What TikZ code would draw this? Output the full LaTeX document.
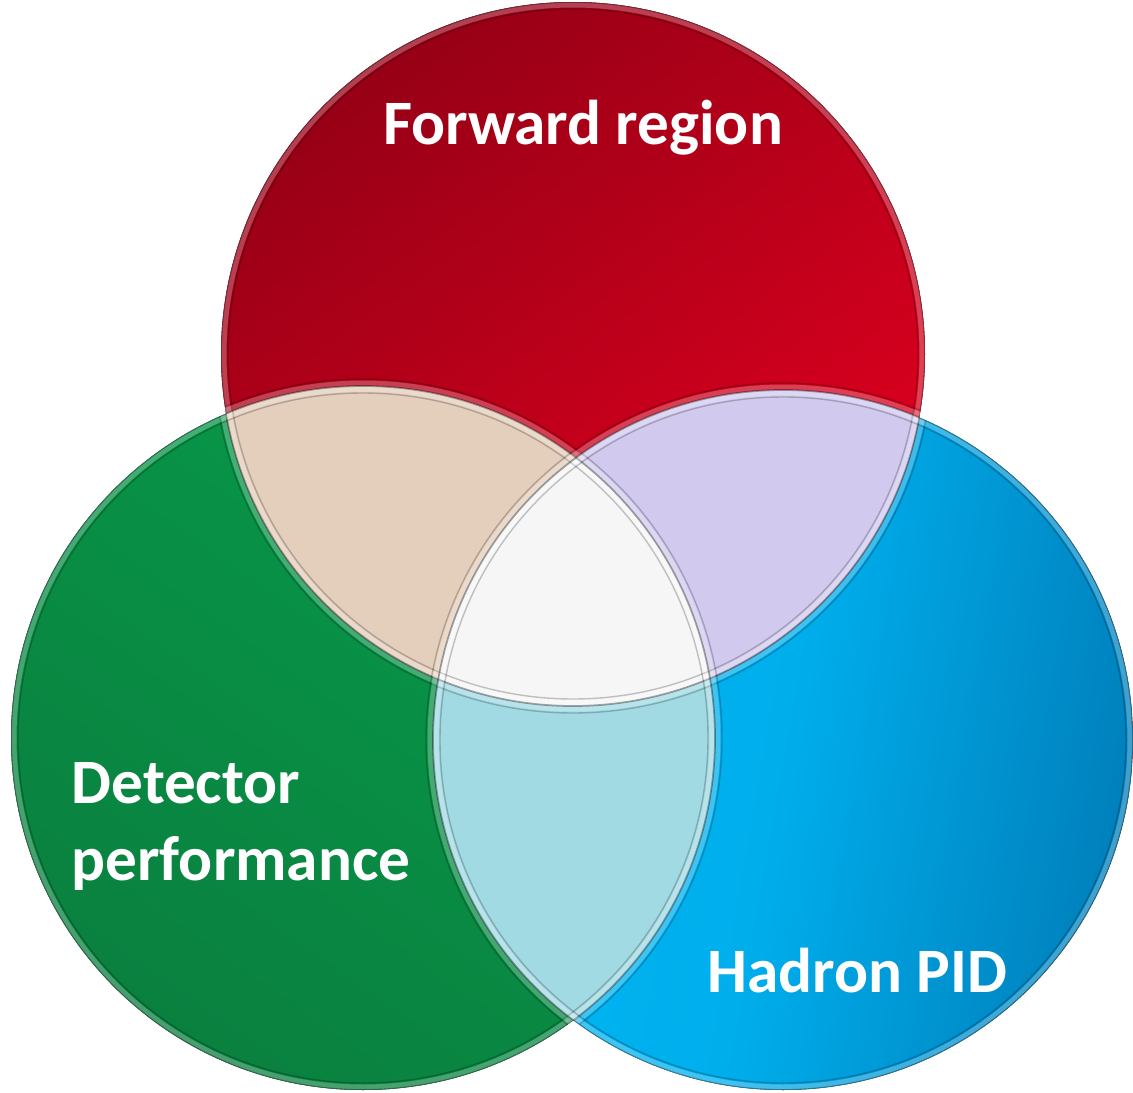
\documentclass[tikz,border=0pt]{standalone}
\usepackage{fontspec}
\setmainfont{Carlito}
\definecolor{redDark}{HTML}{960016}
\definecolor{redLight}{HTML}{E3001F}
\definecolor{greenDark}{HTML}{0A803F}
\definecolor{greenLight}{HTML}{079A4A}
\definecolor{blueLight}{HTML}{00B8F4}
\definecolor{blueMid}{HTML}{00AEEC}
\definecolor{blueDark}{HTML}{0080BC}
\definecolor{beige}{HTML}{E4CEBC}
\definecolor{lavender}{HTML}{D1CAEE}
\definecolor{cyanish}{HTML}{A2DAE3}
\definecolor{centre}{HTML}{F6F6F6}
\begin{document}
\begin{tikzpicture}[
    x=0.1mm, y=-0.1mm, % one unit = one pixel of the reference
    lbl/.style={text=white, font=\fontsize{18}{22}\selectfont\bfseries, inner sep=0pt},
    band/.style={white, opacity=0.25, line width=1.1mm},
    edge/.style={black, opacity=0.35, line width=0.5pt},
    inset/.style={black, opacity=0.22, line width=0.4pt},
  ]
  \useasboundingbox (0,0) rectangle (1133,1093);

  % centres of the three sets
  \coordinate (R) at (573,354);
  \coordinate (G) at (363,738);
  \coordinate (B) at (783,740);
  \def\rr{35.2mm}

  % the sets
  \fill[top color=greenLight, bottom color=greenDark, shading angle=-35] (G) circle[radius=\rr];
  \fill[top color=blueLight, bottom color=blueDark, middle color=blueMid, shading angle=80] (B) circle[radius=35mm];
  \fill[top color=redDark, bottom color=redLight, shading angle=35] (R) circle[radius=\rr];

  % pairwise overlaps
  \begin{scope}
    \clip (R) circle[radius=\rr];
    \fill[beige] (G) circle[radius=\rr];
    \fill[lavender] (B) circle[radius=35mm];
  \end{scope}
  \begin{scope}
    \clip (G) circle[radius=\rr];
    \fill[cyanish] (B) circle[radius=35mm];
  \end{scope}
  % all three
  \begin{scope}
    \clip (R) circle[radius=\rr];
    \clip (G) circle[radius=\rr];
    \fill[centre] (B) circle[radius=35mm];
  \end{scope}

  % bevelled rims
  \begin{scope}
    \clip (R) circle[radius=\rr] (G) circle[radius=\rr] (B) circle[radius=35mm];
    \foreach \c/\r in {R/35.2, G/35.2, B/35} {
      \draw[band] (\c) circle[radius=\r mm];
      \draw[edge] (\c) circle[radius=\r mm];
      \draw[inset] (\c) circle[radius=\r mm-0.7mm];
      \draw[inset] (\c) circle[radius=\r mm+0.7mm];
    }
  \end{scope}

  % titles
  \node[lbl, anchor=base] (fwd) at (583,144) {Forward region};
  \node[lbl, anchor=base west] (det) at (71,803) {Detector};
  \node[lbl, anchor=base west] (perf) at (71,880) {performance};
  \node[lbl, anchor=base west] (pid) at (707,992) {Hadron PID};
\end{tikzpicture}
\end{document}
